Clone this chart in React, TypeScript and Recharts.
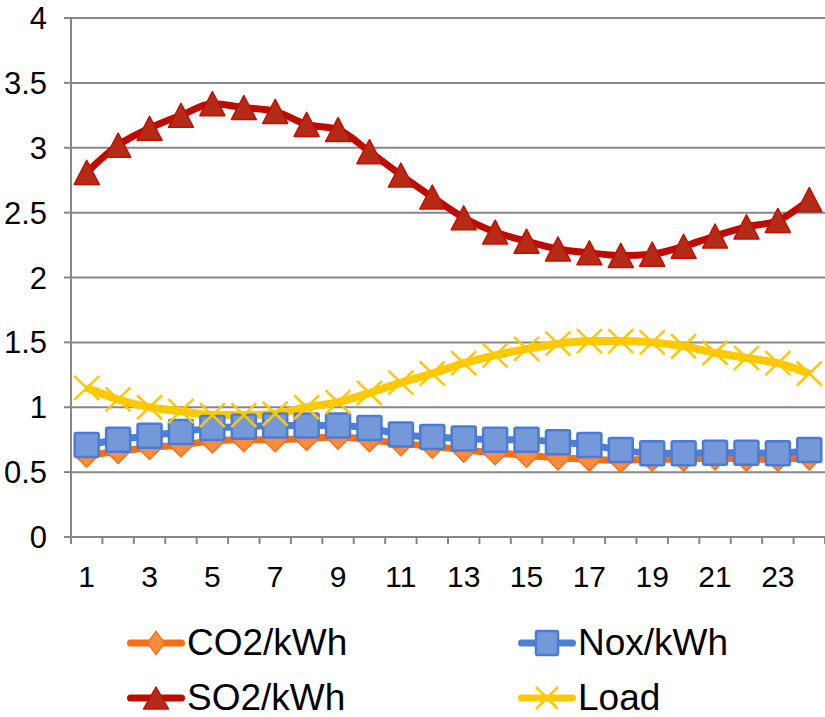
import React from 'react';
import { LineChart, Line, XAxis, YAxis, CartesianGrid, Legend } from 'recharts';

const hours = [1, 2, 3, 4, 5, 6, 7, 8, 9, 10, 11, 12, 13, 14, 15, 16, 17, 18, 19, 20, 21, 22, 23, 24];
const co2 = [0.63, 0.66, 0.69, 0.71, 0.74, 0.75, 0.75, 0.76, 0.77, 0.75, 0.72, 0.7, 0.67, 0.65, 0.63, 0.61, 0.6, 0.59, 0.6, 0.6, 0.61, 0.6, 0.6, 0.61];
const nox = [0.71, 0.75, 0.78, 0.81, 0.84, 0.85, 0.86, 0.86, 0.86, 0.84, 0.79, 0.77, 0.76, 0.75, 0.75, 0.73, 0.71, 0.67, 0.645, 0.645, 0.65, 0.65, 0.645, 0.67];
const so2 = [2.81, 3.02, 3.15, 3.25, 3.34, 3.31, 3.28, 3.18, 3.14, 2.97, 2.79, 2.62, 2.46, 2.35, 2.28, 2.22, 2.19, 2.17, 2.18, 2.24, 2.32, 2.39, 2.44, 2.6];
const load = [1.15, 1.06, 1.0, 0.97, 0.94, 0.94, 0.95, 1.0, 1.04, 1.11, 1.19, 1.26, 1.34, 1.4, 1.45, 1.49, 1.51, 1.51, 1.5, 1.47, 1.42, 1.38, 1.34, 1.26];
const yTicks = [0, 0.5, 1, 1.5, 2, 2.5, 3, 3.5, 4];
const seriesNames = ['CO2/kWh', 'Nox/kWh', 'SO2/kWh', 'Load'];

const data = hours.map((h, i) => ({ hour: h, co2: co2[i], nox: nox[i], so2: so2[i], load: load[i] }));

const W = 825;
const H = 717;
const Y_AXIS_W = 71;
const PLOT_W = W - Y_AXIS_W;
const SLOT = PLOT_W / hours.length;
const FONT = 'Liberation Sans, Arial, sans-serif';
const AXIS_GRAY = '#878787';

const COLORS = {
  co2: { line: '#FA6E12', fill: '#FB8B3D', stroke: '#F5731C' },
  nox: { line: '#4E7FD6', fill: '#7498D8', stroke: '#4B7BD6' },
  so2: { line: '#C00A00', fill: '#B42C18', stroke: '#C20F02' },
  load: { line: '#FFC900', fill: 'none', stroke: '#FFC800' },
};

const Diamond = ({ cx, cy, w = 12, h = 12 }: any) => (
  <path d={`M${cx},${cy - h} L${cx + w},${cy} L${cx},${cy + h} L${cx - w},${cy} Z`} fill={COLORS.co2.fill} stroke={COLORS.co2.stroke} strokeWidth={1.5} />
);
const Square = ({ cx, cy, w = 12, h = 12 }: any) => (
  <rect x={cx - w} y={cy - h} width={2 * w} height={2 * h} rx={1.5} fill={COLORS.nox.fill} stroke={COLORS.nox.stroke} strokeWidth={2.5} />
);
const Triangle = ({ cx, cy, w = 12.5, h = 12 }: any) => (
  <path d={`M${cx},${cy - h} L${cx + w},${cy + h} L${cx - w},${cy + h} Z`} fill={COLORS.so2.fill} stroke={COLORS.so2.stroke} strokeWidth={1.5} strokeLinejoin="round" />
);
const Cross = ({ cx, cy, w = 12.5, h = 12 }: any) => (
  <g stroke={COLORS.load.stroke} strokeWidth={2.5}>
    <line x1={cx - w} y1={cy - h} x2={cx + w} y2={cy + h} />
    <line x1={cx - w} y1={cy + h} x2={cx + w} y2={cy - h} />
  </g>
);

const dotRenderer = (Comp: any) => (props: any) => {
  const { cx, cy, index } = props;
  if (cx == null || cy == null) return <g key={`d-${index}`} />;
  return <Comp key={`d-${index}`} cx={cx} cy={cy} />;
};

const XTick = (props: any) => {
  const { x, y, payload } = props;
  const v = payload.value;
  const half = SLOT / 2;
  return (
    <g>
      <line x1={x - half} x2={x - half} y1={y} y2={y + 7} stroke={AXIS_GRAY} strokeWidth={2} />
      {v === hours[hours.length - 1] && (
        <line x1={x + half} x2={x + half} y1={y} y2={y + 7} stroke={AXIS_GRAY} strokeWidth={2} />
      )}
      {v % 2 === 1 && (
        <text x={x} y={y + 50} textAnchor="middle" fontSize={30} fontFamily={FONT} fill="#000">
          {v}
        </text>
      )}
    </g>
  );
};

const legendItems = [
  { name: seriesNames[0], key: 'co2', Marker: Diamond, mw: 8.5, mh: 11.5, left: 127, top: 0 },
  { name: seriesNames[1], key: 'nox', Marker: Square, mw: 11, mh: 12, left: 518, top: 0 },
  { name: seriesNames[2], key: 'so2', Marker: Triangle, mw: 12.5, mh: 11, left: 127, top: 55 },
  { name: seriesNames[3], key: 'load', Marker: Cross, mw: 11, mh: 11, left: 518, top: 55 },
];

const LegendContent = () => (
  <div style={{ position: 'relative', width: W, height: 110 }}>
    {legendItems.map((it) => {
      const c = (COLORS as any)[it.key];
      const M = it.Marker;
      return (
        <div key={it.name} style={{ position: 'absolute', left: it.left, top: it.top + 8, height: 55, display: 'flex', alignItems: 'center' }}>
          <svg width={58} height={30} style={{ display: 'block' }}>
            <line x1={3.5} x2={54.5} y1={15} y2={15} stroke={c.line} strokeWidth={7} strokeLinecap="round" />
            <M cx={29} cy={15} w={it.mw} h={it.mh} />
          </svg>
          <span style={{ fontFamily: FONT, fontSize: 37, color: '#000', marginLeft: 2, lineHeight: '55px', whiteSpace: 'nowrap' }}>{it.name}</span>
        </div>
      );
    })}
  </div>
);

export default function App() {
  return (
    <div style={{ position: 'absolute', left: 0, top: 0, width: W, height: H, background: '#fff' }}>
      <LineChart width={W} height={H} data={data} margin={{ top: 18, right: 0, bottom: 0, left: 0 }}>
        <CartesianGrid vertical={false} stroke={AXIS_GRAY} strokeWidth={2} />
        <XAxis
          dataKey="hour"
          type="number"
          domain={[0.5, 24.5]}
          ticks={hours}
          interval={0}
          tickLine={false}
          tickSize={0}
          tickMargin={0}
          axisLine={{ stroke: AXIS_GRAY, strokeWidth: 2 }}
          tick={<XTick />}
          height={70}
        />
        <YAxis
          type="number"
          domain={[0, 4]}
          ticks={yTicks}
          interval={0}
          width={Y_AXIS_W}
          tickSize={7}
          tickMargin={17}
          axisLine={{ stroke: AXIS_GRAY, strokeWidth: 2 }}
          tickLine={{ stroke: AXIS_GRAY, strokeWidth: 2 }}
          tick={{ fontSize: 31, fontFamily: FONT, fill: '#000' }}
        />
        <Legend verticalAlign="bottom" content={<LegendContent />} wrapperStyle={{ height: 110, width: W, left: 0 }} />
        <Line name={seriesNames[0]} dataKey="co2" type="monotone" stroke={COLORS.co2.line} strokeWidth={7} dot={dotRenderer(Diamond)} activeDot={false} isAnimationActive={false} />
        <Line name={seriesNames[1]} dataKey="nox" type="monotone" stroke={COLORS.nox.line} strokeWidth={7} dot={dotRenderer(Square)} activeDot={false} isAnimationActive={false} />
        <Line name={seriesNames[2]} dataKey="so2" type="monotone" stroke={COLORS.so2.line} strokeWidth={7} dot={dotRenderer(Triangle)} activeDot={false} isAnimationActive={false} />
        <Line name={seriesNames[3]} dataKey="load" type="monotone" stroke={COLORS.load.line} strokeWidth={8} dot={dotRenderer(Cross)} activeDot={false} isAnimationActive={false} />
      </LineChart>
    </div>
  );
}
